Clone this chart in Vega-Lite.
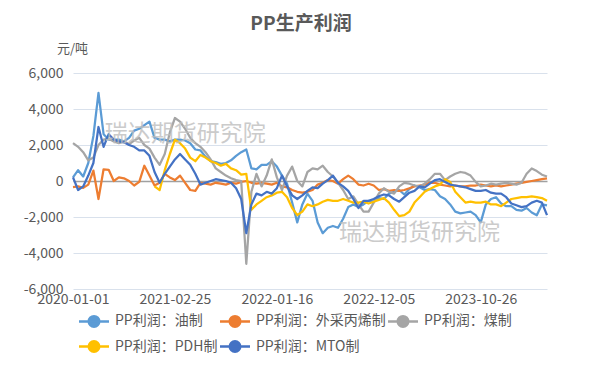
{
"$schema": "https://vega.github.io/schema/vega-lite/v6.json",
"width": 474, "height": 216,
"autosize": {"type": "none"},
"padding": {"left": 73, "top": 73, "right": 58, "bottom": 78},
"background": "white",
"title": {"text": "PP生产利润", "font": "Noto Sans CJK SC", "fontSize": 19, "fontWeight": "bold", "color": "#595959", "anchor": "middle", "dx": -9, "offset": 8},
"config": {"view": {"stroke": null}, "font": "Noto Sans CJK SC", "axis": {"labelOverlap": false}},
"datasets": {
"wm": [{"d": "2021-03-29", "v": 2600, "t": "瑞达期货研究院"}, {"d": "2023-04-12", "v": -2900, "t": "瑞达期货研究院"}],
"main": [
{"d":"2020-01-01","s":"PP利润：油制","v":200},{"d":"2020-01-22","s":"PP利润：油制","v":600},{"d":"2020-02-12","s":"PP利润：油制","v":250},{"d":"2020-03-04","s":"PP利润：油制","v":1000},{"d":"2020-03-25","s":"PP利润：油制","v":2500},{"d":"2020-04-15","s":"PP利润：油制","v":4900},{"d":"2020-05-06","s":"PP利润：油制","v":2600},{"d":"2020-05-27","s":"PP利润：油制","v":2300},{"d":"2020-06-17","s":"PP利润：油制","v":2300},{"d":"2020-07-08","s":"PP利润：油制","v":2300},
{"d":"2020-07-29","s":"PP利润：油制","v":2200},{"d":"2020-08-19","s":"PP利润：油制","v":2400},{"d":"2020-09-09","s":"PP利润：油制","v":2800},{"d":"2020-09-30","s":"PP利润：油制","v":2900},{"d":"2020-10-21","s":"PP利润：油制","v":3100},{"d":"2020-11-11","s":"PP利润：油制","v":3300},{"d":"2020-12-02","s":"PP利润：油制","v":2400},{"d":"2020-12-23","s":"PP利润：油制","v":2300},{"d":"2021-01-13","s":"PP利润：油制","v":2300},{"d":"2021-02-03","s":"PP利润：油制","v":2200},
{"d":"2021-02-25","s":"PP利润：油制","v":2300},{"d":"2021-03-13","s":"PP利润：油制","v":2300},{"d":"2021-03-29","s":"PP利润：油制","v":2250},{"d":"2021-04-14","s":"PP利润：油制","v":2100},{"d":"2021-04-30","s":"PP利润：油制","v":1750},{"d":"2021-05-16","s":"PP利润：油制","v":1700},{"d":"2021-06-01","s":"PP利润：油制","v":1350},{"d":"2021-06-17","s":"PP利润：油制","v":1100},{"d":"2021-07-03","s":"PP利润：油制","v":1050},{"d":"2021-07-19","s":"PP利润：油制","v":950},
{"d":"2021-08-04","s":"PP利润：油制","v":1000},{"d":"2021-08-20","s":"PP利润：油制","v":1150},{"d":"2021-09-05","s":"PP利润：油制","v":1400},{"d":"2021-09-21","s":"PP利润：油制","v":1600},{"d":"2021-10-07","s":"PP利润：油制","v":1750},{"d":"2021-10-23","s":"PP利润：油制","v":700},{"d":"2021-11-08","s":"PP利润：油制","v":650},{"d":"2021-11-24","s":"PP利润：油制","v":900},{"d":"2021-12-10","s":"PP利润：油制","v":900},{"d":"2021-12-27","s":"PP利润：油制","v":1100},
{"d":"2022-01-16","s":"PP利润：油制","v":800},{"d":"2022-02-01","s":"PP利润：油制","v":300},{"d":"2022-02-17","s":"PP利润：油制","v":-150},{"d":"2022-03-05","s":"PP利润：油制","v":-1200},{"d":"2022-03-21","s":"PP利润：油制","v":-2300},{"d":"2022-04-06","s":"PP利润：油制","v":-1300},{"d":"2022-04-22","s":"PP利润：油制","v":-700},{"d":"2022-05-08","s":"PP利润：油制","v":-1100},{"d":"2022-05-24","s":"PP利润：油制","v":-2300},{"d":"2022-06-09","s":"PP利润：油制","v":-2900},
{"d":"2022-06-25","s":"PP利润：油制","v":-2600},{"d":"2022-07-11","s":"PP利润：油制","v":-2500},{"d":"2022-07-27","s":"PP利润：油制","v":-2600},{"d":"2022-08-12","s":"PP利润：油制","v":-2100},{"d":"2022-08-28","s":"PP利润：油制","v":-1450},{"d":"2022-09-13","s":"PP利润：油制","v":-1300},{"d":"2022-09-29","s":"PP利润：油制","v":-1450},{"d":"2022-10-15","s":"PP利润：油制","v":-1300},{"d":"2022-10-31","s":"PP利润：油制","v":-1100},{"d":"2022-11-16","s":"PP利润：油制","v":-1150},
{"d":"2022-12-05","s":"PP利润：油制","v":-950},{"d":"2022-12-21","s":"PP利润：油制","v":-1000},{"d":"2023-01-06","s":"PP利润：油制","v":-700},{"d":"2023-01-22","s":"PP利润：油制","v":-600},{"d":"2023-02-07","s":"PP利润：油制","v":-500},{"d":"2023-02-23","s":"PP利润：油制","v":-750},{"d":"2023-03-11","s":"PP利润：油制","v":-450},{"d":"2023-03-27","s":"PP利润：油制","v":-250},{"d":"2023-04-12","s":"PP利润：油制","v":-350},{"d":"2023-04-28","s":"PP利润：油制","v":-500},
{"d":"2023-05-14","s":"PP利润：油制","v":-450},{"d":"2023-05-30","s":"PP利润：油制","v":-500},{"d":"2023-06-15","s":"PP利润：油制","v":-850},{"d":"2023-07-01","s":"PP利润：油制","v":-1000},{"d":"2023-07-17","s":"PP利润：油制","v":-1300},{"d":"2023-08-02","s":"PP利润：油制","v":-1700},{"d":"2023-08-18","s":"PP利润：油制","v":-1800},{"d":"2023-09-03","s":"PP利润：油制","v":-1750},{"d":"2023-09-19","s":"PP利润：油制","v":-1700},{"d":"2023-10-05","s":"PP利润：油制","v":-1900},
{"d":"2023-10-26","s":"PP利润：油制","v":-2300},{"d":"2023-11-11","s":"PP利润：油制","v":-1300},{"d":"2023-11-27","s":"PP利润：油制","v":-1000},{"d":"2023-12-13","s":"PP利润：油制","v":-900},{"d":"2023-12-29","s":"PP利润：油制","v":-1250},{"d":"2024-01-14","s":"PP利润：油制","v":-1400},{"d":"2024-01-30","s":"PP利润：油制","v":-1400},{"d":"2024-02-15","s":"PP利润：油制","v":-1600},{"d":"2024-03-02","s":"PP利润：油制","v":-1650},{"d":"2024-03-18","s":"PP利润：油制","v":-1500},
{"d":"2024-04-03","s":"PP利润：油制","v":-1750},{"d":"2024-04-19","s":"PP利润：油制","v":-1900},{"d":"2024-05-05","s":"PP利润：油制","v":-1300},{"d":"2024-05-21","s":"PP利润：油制","v":-1350},

{"d":"2020-01-01","s":"PP利润：外采丙烯制","v":-340},{"d":"2020-01-22","s":"PP利润：外采丙烯制","v":-300},{"d":"2020-02-12","s":"PP利润：外采丙烯制","v":-380},{"d":"2020-03-04","s":"PP利润：外采丙烯制","v":-200},{"d":"2020-03-25","s":"PP利润：外采丙烯制","v":580},{"d":"2020-04-15","s":"PP利润：外采丙烯制","v":-1000},{"d":"2020-05-06","s":"PP利润：外采丙烯制","v":650},{"d":"2020-05-27","s":"PP利润：外采丙烯制","v":620},{"d":"2020-06-17","s":"PP利润：外采丙烯制","v":0},{"d":"2020-07-08","s":"PP利润：外采丙烯制","v":200},
{"d":"2020-07-29","s":"PP利润：外采丙烯制","v":150},{"d":"2020-08-19","s":"PP利润：外采丙烯制","v":0},{"d":"2020-09-09","s":"PP利润：外采丙烯制","v":-250},{"d":"2020-09-30","s":"PP利润：外采丙烯制","v":-50},{"d":"2020-10-21","s":"PP利润：外采丙烯制","v":850},{"d":"2020-11-11","s":"PP利润：外采丙烯制","v":300},{"d":"2020-12-02","s":"PP利润：外采丙烯制","v":-250},{"d":"2020-12-23","s":"PP利润：外采丙烯制","v":-100},{"d":"2021-01-13","s":"PP利润：外采丙烯制","v":400},{"d":"2021-02-03","s":"PP利润：外采丙烯制","v":200},
{"d":"2021-02-25","s":"PP利润：外采丙烯制","v":50},{"d":"2021-03-13","s":"PP利润：外采丙烯制","v":300},{"d":"2021-03-29","s":"PP利润：外采丙烯制","v":-100},{"d":"2021-04-14","s":"PP利润：外采丙烯制","v":-500},{"d":"2021-04-30","s":"PP利润：外采丙烯制","v":-550},{"d":"2021-05-16","s":"PP利润：外采丙烯制","v":-100},{"d":"2021-06-01","s":"PP利润：外采丙烯制","v":-150},{"d":"2021-06-17","s":"PP利润：外采丙烯制","v":-200},{"d":"2021-07-03","s":"PP利润：外采丙烯制","v":-100},{"d":"2021-07-19","s":"PP利润：外采丙烯制","v":-150},
{"d":"2021-08-04","s":"PP利润：外采丙烯制","v":-200},{"d":"2021-08-20","s":"PP利润：外采丙烯制","v":-100},{"d":"2021-09-05","s":"PP利润：外采丙烯制","v":-150},{"d":"2021-09-21","s":"PP利润：外采丙烯制","v":-50},{"d":"2021-10-07","s":"PP利润：外采丙烯制","v":0},{"d":"2021-10-23","s":"PP利润：外采丙烯制","v":-100},{"d":"2021-11-08","s":"PP利润：外采丙烯制","v":-150},{"d":"2021-11-24","s":"PP利润：外采丙烯制","v":-100},{"d":"2021-12-10","s":"PP利润：外采丙烯制","v":-150},{"d":"2021-12-27","s":"PP利润：外采丙烯制","v":-200},
{"d":"2022-01-16","s":"PP利润：外采丙烯制","v":-100},{"d":"2022-02-01","s":"PP利润：外采丙烯制","v":-300},{"d":"2022-02-17","s":"PP利润：外采丙烯制","v":-350},{"d":"2022-03-05","s":"PP利润：外采丙烯制","v":-500},{"d":"2022-03-21","s":"PP利润：外采丙烯制","v":-600},{"d":"2022-04-06","s":"PP利润：外采丙烯制","v":-650},{"d":"2022-04-22","s":"PP利润：外采丙烯制","v":-600},{"d":"2022-05-08","s":"PP利润：外采丙烯制","v":-500},{"d":"2022-05-24","s":"PP利润：外采丙烯制","v":-200},{"d":"2022-06-09","s":"PP利润：外采丙烯制","v":-100},
{"d":"2022-06-25","s":"PP利润：外采丙烯制","v":50},{"d":"2022-07-11","s":"PP利润：外采丙烯制","v":0},{"d":"2022-07-27","s":"PP利润：外采丙烯制","v":-150},{"d":"2022-08-12","s":"PP利润：外采丙烯制","v":100},{"d":"2022-08-28","s":"PP利润：外采丙烯制","v":300},{"d":"2022-09-13","s":"PP利润：外采丙烯制","v":100},{"d":"2022-09-29","s":"PP利润：外采丙烯制","v":-200},{"d":"2022-10-15","s":"PP利润：外采丙烯制","v":-250},{"d":"2022-10-31","s":"PP利润：外采丙烯制","v":-150},{"d":"2022-11-16","s":"PP利润：外采丙烯制","v":-250},
{"d":"2022-12-05","s":"PP利润：外采丙烯制","v":-500},{"d":"2022-12-21","s":"PP利润：外采丙烯制","v":-450},{"d":"2023-01-06","s":"PP利润：外采丙烯制","v":-550},{"d":"2023-01-22","s":"PP利润：外采丙烯制","v":-500},{"d":"2023-02-07","s":"PP利润：外采丙烯制","v":-550},{"d":"2023-02-23","s":"PP利润：外采丙烯制","v":-500},{"d":"2023-03-11","s":"PP利润：外采丙烯制","v":-400},{"d":"2023-03-27","s":"PP利润：外采丙烯制","v":-300},{"d":"2023-04-12","s":"PP利润：外采丙烯制","v":-250},{"d":"2023-04-28","s":"PP利润：外采丙烯制","v":-200},
{"d":"2023-05-14","s":"PP利润：外采丙烯制","v":-100},{"d":"2023-05-30","s":"PP利润：外采丙烯制","v":-100},{"d":"2023-06-15","s":"PP利润：外采丙烯制","v":-200},{"d":"2023-07-01","s":"PP利润：外采丙烯制","v":-250},{"d":"2023-07-17","s":"PP利润：外采丙烯制","v":-300},{"d":"2023-08-02","s":"PP利润：外采丙烯制","v":-250},{"d":"2023-08-18","s":"PP利润：外采丙烯制","v":-300},{"d":"2023-09-03","s":"PP利润：外采丙烯制","v":-300},{"d":"2023-09-19","s":"PP利润：外采丙烯制","v":-250},{"d":"2023-10-05","s":"PP利润：外采丙烯制","v":-250},
{"d":"2023-10-26","s":"PP利润：外采丙烯制","v":-200},{"d":"2023-11-11","s":"PP利润：外采丙烯制","v":-250},{"d":"2023-11-27","s":"PP利润：外采丙烯制","v":-300},{"d":"2023-12-13","s":"PP利润：外采丙烯制","v":-250},{"d":"2023-12-29","s":"PP利润：外采丙烯制","v":-300},{"d":"2024-01-14","s":"PP利润：外采丙烯制","v":-250},{"d":"2024-01-30","s":"PP利润：外采丙烯制","v":-200},{"d":"2024-02-15","s":"PP利润：外采丙烯制","v":-150},{"d":"2024-03-02","s":"PP利润：外采丙烯制","v":-100},{"d":"2024-03-18","s":"PP利润：外采丙烯制","v":-50},
{"d":"2024-04-03","s":"PP利润：外采丙烯制","v":0},{"d":"2024-04-19","s":"PP利润：外采丙烯制","v":50},{"d":"2024-05-05","s":"PP利润：外采丙烯制","v":100},{"d":"2024-05-21","s":"PP利润：外采丙烯制","v":150},

{"d":"2020-01-01","s":"PP利润：煤制","v":2100},{"d":"2020-01-22","s":"PP利润：煤制","v":1900},{"d":"2020-02-12","s":"PP利润：煤制","v":1600},{"d":"2020-03-04","s":"PP利润：煤制","v":1150},{"d":"2020-03-25","s":"PP利润：煤制","v":1300},{"d":"2020-04-15","s":"PP利润：煤制","v":2000},{"d":"2020-05-06","s":"PP利润：煤制","v":2300},{"d":"2020-05-27","s":"PP利润：煤制","v":2350},{"d":"2020-06-17","s":"PP利润：煤制","v":2200},{"d":"2020-07-08","s":"PP利润：煤制","v":2100},
{"d":"2020-07-29","s":"PP利润：煤制","v":2200},{"d":"2020-08-19","s":"PP利润：煤制","v":2050},{"d":"2020-09-09","s":"PP利润：煤制","v":2250},{"d":"2020-09-30","s":"PP利润：煤制","v":2400},{"d":"2020-10-21","s":"PP利润：煤制","v":2000},{"d":"2020-11-11","s":"PP利润：煤制","v":1800},{"d":"2020-12-02","s":"PP利润：煤制","v":1300},{"d":"2020-12-23","s":"PP利润：煤制","v":900},{"d":"2021-01-13","s":"PP利润：煤制","v":1500},{"d":"2021-02-03","s":"PP利润：煤制","v":2700},
{"d":"2021-02-25","s":"PP利润：煤制","v":3500},{"d":"2021-03-13","s":"PP利润：煤制","v":3300},{"d":"2021-03-29","s":"PP利润：煤制","v":2900},{"d":"2021-04-14","s":"PP利润：煤制","v":2400},{"d":"2021-04-30","s":"PP利润：煤制","v":2100},{"d":"2021-05-16","s":"PP利润：煤制","v":1900},{"d":"2021-06-01","s":"PP利润：煤制","v":1600},{"d":"2021-06-17","s":"PP利润：煤制","v":1200},{"d":"2021-07-03","s":"PP利润：煤制","v":700},{"d":"2021-07-19","s":"PP利润：煤制","v":500},
{"d":"2021-08-04","s":"PP利润：煤制","v":300},{"d":"2021-08-20","s":"PP利润：煤制","v":150},{"d":"2021-09-05","s":"PP利润：煤制","v":50},{"d":"2021-09-21","s":"PP利润：煤制","v":0},{"d":"2021-10-07","s":"PP利润：煤制","v":-4600},{"d":"2021-10-23","s":"PP利润：煤制","v":-600},{"d":"2021-11-08","s":"PP利润：煤制","v":400},{"d":"2021-11-24","s":"PP利润：煤制","v":-300},{"d":"2021-12-10","s":"PP利润：煤制","v":300},{"d":"2021-12-27","s":"PP利润：煤制","v":1200},
{"d":"2022-01-16","s":"PP利润：煤制","v":200},{"d":"2022-02-01","s":"PP利润：煤制","v":-500},{"d":"2022-02-17","s":"PP利润：煤制","v":300},{"d":"2022-03-05","s":"PP利润：煤制","v":800},{"d":"2022-03-21","s":"PP利润：煤制","v":0},{"d":"2022-04-06","s":"PP利润：煤制","v":-300},{"d":"2022-04-22","s":"PP利润：煤制","v":500},{"d":"2022-05-08","s":"PP利润：煤制","v":700},{"d":"2022-05-24","s":"PP利润：煤制","v":650},{"d":"2022-06-09","s":"PP利润：煤制","v":850},
{"d":"2022-06-25","s":"PP利润：煤制","v":500},{"d":"2022-07-11","s":"PP利润：煤制","v":250},{"d":"2022-07-27","s":"PP利润：煤制","v":-100},{"d":"2022-08-12","s":"PP利润：煤制","v":-500},{"d":"2022-08-28","s":"PP利润：煤制","v":-1000},{"d":"2022-09-13","s":"PP利润：煤制","v":-850},{"d":"2022-09-29","s":"PP利润：煤制","v":-1300},{"d":"2022-10-15","s":"PP利润：煤制","v":-1700},{"d":"2022-10-31","s":"PP利润：煤制","v":-1700},{"d":"2022-11-16","s":"PP利润：煤制","v":-1200},
{"d":"2022-12-05","s":"PP利润：煤制","v":-700},{"d":"2022-12-21","s":"PP利润：煤制","v":-400},{"d":"2023-01-06","s":"PP利润：煤制","v":-600},{"d":"2023-01-22","s":"PP利润：煤制","v":-700},{"d":"2023-02-07","s":"PP利润：煤制","v":-300},{"d":"2023-02-23","s":"PP利润：煤制","v":-100},{"d":"2023-03-11","s":"PP利润：煤制","v":-150},{"d":"2023-03-27","s":"PP利润：煤制","v":-250},{"d":"2023-04-12","s":"PP利润：煤制","v":-300},{"d":"2023-04-28","s":"PP利润：煤制","v":-150},
{"d":"2023-05-14","s":"PP利润：煤制","v":100},{"d":"2023-05-30","s":"PP利润：煤制","v":400},{"d":"2023-06-15","s":"PP利润：煤制","v":400},{"d":"2023-07-01","s":"PP利润：煤制","v":50},{"d":"2023-07-17","s":"PP利润：煤制","v":250},{"d":"2023-08-02","s":"PP利润：煤制","v":400},{"d":"2023-08-18","s":"PP利润：煤制","v":500},{"d":"2023-09-03","s":"PP利润：煤制","v":450},{"d":"2023-09-19","s":"PP利润：煤制","v":300},{"d":"2023-10-05","s":"PP利润：煤制","v":-50},
{"d":"2023-10-26","s":"PP利润：煤制","v":-300},{"d":"2023-11-11","s":"PP利润：煤制","v":-250},{"d":"2023-11-27","s":"PP利润：煤制","v":-150},{"d":"2023-12-13","s":"PP利润：煤制","v":-200},{"d":"2023-12-29","s":"PP利润：煤制","v":-150},{"d":"2024-01-14","s":"PP利润：煤制","v":-100},{"d":"2024-01-30","s":"PP利润：煤制","v":-150},{"d":"2024-02-15","s":"PP利润：煤制","v":-200},{"d":"2024-03-02","s":"PP利润：煤制","v":-100},{"d":"2024-03-18","s":"PP利润：煤制","v":400},
{"d":"2024-04-03","s":"PP利润：煤制","v":700},{"d":"2024-04-19","s":"PP利润：煤制","v":550},{"d":"2024-05-05","s":"PP利润：煤制","v":350},{"d":"2024-05-21","s":"PP利润：煤制","v":250},

{"d":"2020-12-02","s":"PP利润：PDH制","v":-300},{"d":"2020-12-23","s":"PP利润：PDH制","v":-500},{"d":"2021-01-13","s":"PP利润：PDH制","v":600},{"d":"2021-02-03","s":"PP利润：PDH制","v":1500},
{"d":"2021-02-25","s":"PP利润：PDH制","v":2300},{"d":"2021-03-13","s":"PP利润：PDH制","v":2100},{"d":"2021-03-29","s":"PP利润：PDH制","v":1800},{"d":"2021-04-14","s":"PP利润：PDH制","v":1300},{"d":"2021-04-30","s":"PP利润：PDH制","v":1100},{"d":"2021-05-16","s":"PP利润：PDH制","v":1450},{"d":"2021-06-01","s":"PP利润：PDH制","v":1300},{"d":"2021-06-17","s":"PP利润：PDH制","v":1100},{"d":"2021-07-03","s":"PP利润：PDH制","v":1000},{"d":"2021-07-19","s":"PP利润：PDH制","v":850},
{"d":"2021-08-04","s":"PP利润：PDH制","v":950},{"d":"2021-08-20","s":"PP利润：PDH制","v":700},{"d":"2021-09-05","s":"PP利润：PDH制","v":600},{"d":"2021-09-21","s":"PP利润：PDH制","v":350},{"d":"2021-10-07","s":"PP利润：PDH制","v":400},{"d":"2021-10-23","s":"PP利润：PDH制","v":-1600},{"d":"2021-11-08","s":"PP利润：PDH制","v":-1300},{"d":"2021-11-24","s":"PP利润：PDH制","v":-1100},{"d":"2021-12-10","s":"PP利润：PDH制","v":-900},{"d":"2021-12-27","s":"PP利润：PDH制","v":-800},
{"d":"2022-01-16","s":"PP利润：PDH制","v":-650},{"d":"2022-02-01","s":"PP利润：PDH制","v":-600},{"d":"2022-02-17","s":"PP利润：PDH制","v":-900},{"d":"2022-03-05","s":"PP利润：PDH制","v":-1500},{"d":"2022-03-21","s":"PP利润：PDH制","v":-1900},{"d":"2022-04-06","s":"PP利润：PDH制","v":-1700},{"d":"2022-04-22","s":"PP利润：PDH制","v":-1300},{"d":"2022-05-08","s":"PP利润：PDH制","v":-1400},{"d":"2022-05-24","s":"PP利润：PDH制","v":-1300},{"d":"2022-06-09","s":"PP利润：PDH制","v":-1150},
{"d":"2022-06-25","s":"PP利润：PDH制","v":-1050},{"d":"2022-07-11","s":"PP利润：PDH制","v":-1100},{"d":"2022-07-27","s":"PP利润：PDH制","v":-1100},{"d":"2022-08-12","s":"PP利润：PDH制","v":-1000},{"d":"2022-08-28","s":"PP利润：PDH制","v":-1100},{"d":"2022-09-13","s":"PP利润：PDH制","v":-1200},{"d":"2022-09-29","s":"PP利润：PDH制","v":-1200},{"d":"2022-10-15","s":"PP利润：PDH制","v":-1150},{"d":"2022-10-31","s":"PP利润：PDH制","v":-1250},{"d":"2022-11-16","s":"PP利润：PDH制","v":-1150},
{"d":"2022-12-05","s":"PP利润：PDH制","v":-1050},{"d":"2022-12-21","s":"PP利润：PDH制","v":-950},{"d":"2023-01-06","s":"PP利润：PDH制","v":-1200},{"d":"2023-01-22","s":"PP利润：PDH制","v":-1600},{"d":"2023-02-07","s":"PP利润：PDH制","v":-1950},{"d":"2023-02-23","s":"PP利润：PDH制","v":-1900},{"d":"2023-03-11","s":"PP利润：PDH制","v":-1700},{"d":"2023-03-27","s":"PP利润：PDH制","v":-1200},{"d":"2023-04-12","s":"PP利润：PDH制","v":-900},{"d":"2023-04-28","s":"PP利润：PDH制","v":-600},
{"d":"2023-05-14","s":"PP利润：PDH制","v":-450},{"d":"2023-05-30","s":"PP利润：PDH制","v":-300},{"d":"2023-06-15","s":"PP利润：PDH制","v":-200},{"d":"2023-07-01","s":"PP利润：PDH制","v":100},{"d":"2023-07-17","s":"PP利润：PDH制","v":-50},{"d":"2023-08-02","s":"PP利润：PDH制","v":-600},{"d":"2023-08-18","s":"PP利润：PDH制","v":-900},{"d":"2023-09-03","s":"PP利润：PDH制","v":-1200},{"d":"2023-09-19","s":"PP利润：PDH制","v":-1150},{"d":"2023-10-05","s":"PP利润：PDH制","v":-1200},
{"d":"2023-10-26","s":"PP利润：PDH制","v":-1200},{"d":"2023-11-11","s":"PP利润：PDH制","v":-1150},{"d":"2023-11-27","s":"PP利润：PDH制","v":-1300},{"d":"2023-12-13","s":"PP利润：PDH制","v":-1300},{"d":"2023-12-29","s":"PP利润：PDH制","v":-1400},{"d":"2024-01-14","s":"PP利润：PDH制","v":-1200},{"d":"2024-01-30","s":"PP利润：PDH制","v":-1000},{"d":"2024-02-15","s":"PP利润：PDH制","v":-950},{"d":"2024-03-02","s":"PP利润：PDH制","v":-900},{"d":"2024-03-18","s":"PP利润：PDH制","v":-900},
{"d":"2024-04-03","s":"PP利润：PDH制","v":-850},{"d":"2024-04-19","s":"PP利润：PDH制","v":-900},{"d":"2024-05-05","s":"PP利润：PDH制","v":-950},{"d":"2024-05-21","s":"PP利润：PDH制","v":-1100},

{"d":"2020-01-01","s":"PP利润：MTO制","v":200},{"d":"2020-01-22","s":"PP利润：MTO制","v":-500},{"d":"2020-02-12","s":"PP利润：MTO制","v":-300},{"d":"2020-03-04","s":"PP利润：MTO制","v":300},{"d":"2020-03-25","s":"PP利润：MTO制","v":1000},{"d":"2020-04-15","s":"PP利润：MTO制","v":3000},{"d":"2020-05-06","s":"PP利润：MTO制","v":1900},{"d":"2020-05-27","s":"PP利润：MTO制","v":2600},{"d":"2020-06-17","s":"PP利润：MTO制","v":2300},{"d":"2020-07-08","s":"PP利润：MTO制","v":2200},
{"d":"2020-07-29","s":"PP利润：MTO制","v":2150},{"d":"2020-08-19","s":"PP利润：MTO制","v":2000},{"d":"2020-09-09","s":"PP利润：MTO制","v":1900},{"d":"2020-09-30","s":"PP利润：MTO制","v":1700},{"d":"2020-10-21","s":"PP利润：MTO制","v":1700},{"d":"2020-11-11","s":"PP利润：MTO制","v":1400},{"d":"2020-12-02","s":"PP利润：MTO制","v":500},{"d":"2020-12-23","s":"PP利润：MTO制","v":-100},{"d":"2021-01-13","s":"PP利润：MTO制","v":400},{"d":"2021-02-03","s":"PP利润：MTO制","v":800},
{"d":"2021-02-25","s":"PP利润：MTO制","v":1200},{"d":"2021-03-13","s":"PP利润：MTO制","v":1500},{"d":"2021-03-29","s":"PP利润：MTO制","v":1200},{"d":"2021-04-14","s":"PP利润：MTO制","v":900},{"d":"2021-04-30","s":"PP利润：MTO制","v":400},{"d":"2021-05-16","s":"PP利润：MTO制","v":-200},{"d":"2021-06-01","s":"PP利润：MTO制","v":-100},{"d":"2021-06-17","s":"PP利润：MTO制","v":0},{"d":"2021-07-03","s":"PP利润：MTO制","v":100},{"d":"2021-07-19","s":"PP利润：MTO制","v":50},
{"d":"2021-08-04","s":"PP利润：MTO制","v":0},{"d":"2021-08-20","s":"PP利润：MTO制","v":-100},{"d":"2021-09-05","s":"PP利润：MTO制","v":-400},{"d":"2021-09-21","s":"PP利润：MTO制","v":-1000},{"d":"2021-10-07","s":"PP利润：MTO制","v":-2900},{"d":"2021-10-23","s":"PP利润：MTO制","v":-1300},{"d":"2021-11-08","s":"PP利润：MTO制","v":-700},{"d":"2021-11-24","s":"PP利润：MTO制","v":-800},{"d":"2021-12-10","s":"PP利润：MTO制","v":-600},{"d":"2021-12-27","s":"PP利润：MTO制","v":-700},
{"d":"2022-01-16","s":"PP利润：MTO制","v":-400},{"d":"2022-02-01","s":"PP利润：MTO制","v":300},{"d":"2022-02-17","s":"PP利润：MTO制","v":-300},{"d":"2022-03-05","s":"PP利润：MTO制","v":-800},{"d":"2022-03-21","s":"PP利润：MTO制","v":-1000},{"d":"2022-04-06","s":"PP利润：MTO制","v":-800},{"d":"2022-04-22","s":"PP利润：MTO制","v":-550},{"d":"2022-05-08","s":"PP利润：MTO制","v":-350},{"d":"2022-05-24","s":"PP利润：MTO制","v":-400},{"d":"2022-06-09","s":"PP利润：MTO制","v":-150},
{"d":"2022-06-25","s":"PP利润：MTO制","v":50},{"d":"2022-07-11","s":"PP利润：MTO制","v":300},{"d":"2022-07-27","s":"PP利润：MTO制","v":-100},{"d":"2022-08-12","s":"PP利润：MTO制","v":-300},{"d":"2022-08-28","s":"PP利润：MTO制","v":-550},{"d":"2022-09-13","s":"PP利润：MTO制","v":-1000},{"d":"2022-09-29","s":"PP利润：MTO制","v":-1500},{"d":"2022-10-15","s":"PP利润：MTO制","v":-1100},{"d":"2022-10-31","s":"PP利润：MTO制","v":-1100},{"d":"2022-11-16","s":"PP利润：MTO制","v":-1000},
{"d":"2022-12-05","s":"PP利润：MTO制","v":-850},{"d":"2022-12-21","s":"PP利润：MTO制","v":-750},{"d":"2023-01-06","s":"PP利润：MTO制","v":-800},{"d":"2023-01-22","s":"PP利润：MTO制","v":-1000},{"d":"2023-02-07","s":"PP利润：MTO制","v":-1150},{"d":"2023-02-23","s":"PP利润：MTO制","v":-900},{"d":"2023-03-11","s":"PP利润：MTO制","v":-650},{"d":"2023-03-27","s":"PP利润：MTO制","v":-550},{"d":"2023-04-12","s":"PP利润：MTO制","v":-300},{"d":"2023-04-28","s":"PP利润：MTO制","v":-350},
{"d":"2023-05-14","s":"PP利润：MTO制","v":-150},{"d":"2023-05-30","s":"PP利润：MTO制","v":50},{"d":"2023-06-15","s":"PP利润：MTO制","v":100},{"d":"2023-07-01","s":"PP利润：MTO制","v":-50},{"d":"2023-07-17","s":"PP利润：MTO制","v":-200},{"d":"2023-08-02","s":"PP利润：MTO制","v":-250},{"d":"2023-08-18","s":"PP利润：MTO制","v":-300},{"d":"2023-09-03","s":"PP利润：MTO制","v":-350},{"d":"2023-09-19","s":"PP利润：MTO制","v":-450},{"d":"2023-10-05","s":"PP利润：MTO制","v":-550},
{"d":"2023-10-26","s":"PP利润：MTO制","v":-550},{"d":"2023-11-11","s":"PP利润：MTO制","v":-500},{"d":"2023-11-27","s":"PP利润：MTO制","v":-650},{"d":"2023-12-13","s":"PP利润：MTO制","v":-700},{"d":"2023-12-29","s":"PP利润：MTO制","v":-700},{"d":"2024-01-14","s":"PP利润：MTO制","v":-900},{"d":"2024-01-30","s":"PP利润：MTO制","v":-1250},{"d":"2024-02-15","s":"PP利润：MTO制","v":-1350},{"d":"2024-03-02","s":"PP利润：MTO制","v":-1450},{"d":"2024-03-18","s":"PP利润：MTO制","v":-1400},
{"d":"2024-04-03","s":"PP利润：MTO制","v":-1200},{"d":"2024-04-19","s":"PP利润：MTO制","v":-1100},{"d":"2024-05-05","s":"PP利润：MTO制","v":-1200},{"d":"2024-05-21","s":"PP利润：MTO制","v":-1900}
]},
"layer": [
{
"data": {"name": "main"},
"mark": {"type": "line", "strokeWidth": 2.25, "strokeJoin": "round"},
"encoding": {
"x": {"field": "d", "type": "ordinal", "sort": "ascending", "scale": {"type": "point", "padding": 0},
 "axis": {"values": ["2020-01-01", "2021-02-25", "2022-01-16", "2022-12-05", "2023-10-26"], "labelAngle": 0, "ticks": false, "domain": false, "grid": false, "labelFontSize": 14, "labelColor": "#595959", "labelPadding": 3, "title": null, "labelOverlap": false, "labelFont": "Noto Sans CJK SC"}},
"y": {"field": "v", "type": "quantitative", "scale": {"domain": [-6000, 6000], "nice": false, "zero": false},
 "axis": {"values": [-6000, -4000, -2000, 0, 2000, 4000, 6000], "tickCount": 20, "grid": true,
  "gridColor": {"condition": {"test": "datum.value === 0", "value": "#A0A0A0"}, "value": "#D9E1EC"},
  "gridWidth": {"condition": {"test": "datum.value === 0", "value": 1.3}, "value": 1},
  "ticks": false, "domain": false, "labelFontSize": 14, "labelColor": "#595959", "labelPadding": 10, "labelFont": "Noto Sans CJK SC", "labelOverlap": false, "labelExpr": "replace(format(datum.value, ','), '−', '-')", "title": "元/吨", "titleAngle": 0, "titleAlign": "center", "titleBaseline": "middle", "titleX": -1, "titleY": -25, "titleFontSize": 13, "titleFontWeight": "normal", "titleColor": "#595959", "titleFont": "Noto Sans CJK SC"}},
"color": {"field": "s", "type": "nominal",
 "scale": {"domain": ["PP利润：油制", "PP利润：外采丙烯制", "PP利润：煤制", "PP利润：PDH制", "PP利润：MTO制"], "range": ["#5B9BD5", "#ED7D31", "#A5A5A5", "#FFC000", "#4472C4"]},
 "legend": {"orient": "none", "legendX": 12, "legendY": 239, "direction": "horizontal", "columns": 3, "title": null, "symbolType": "M-2,0H2M0.7,0A0.7,0.7 0 1,1 -0.7,0A0.7,0.7 0 1,1 0.7,0Z", "symbolSize": 225, "symbolStrokeWidth": 2.5, "labelFontSize": 14, "labelColor": "#595959", "labelFont": "Noto Sans CJK SC", "labelOffset": 12, "columnPadding": -3, "rowPadding": 3.5, "padding": 0, "labelLimit": 300,
  "encode": {"symbols": {"update": {"fill": {"scale": "color", "field": "value"}}}}}}
}
},
{
"data": {"name": "wm"},
"mark": {"type": "text", "fontSize": 23, "color": "#BFBFBF", "opacity": 0.8, "align": "center", "baseline": "middle", "font": "Noto Sans CJK SC"},
"encoding": {"x": {"field": "d", "type": "ordinal", "sort": "ascending"}, "y": {"field": "v", "type": "quantitative"}, "text": {"field": "t"}}
}
]
}
